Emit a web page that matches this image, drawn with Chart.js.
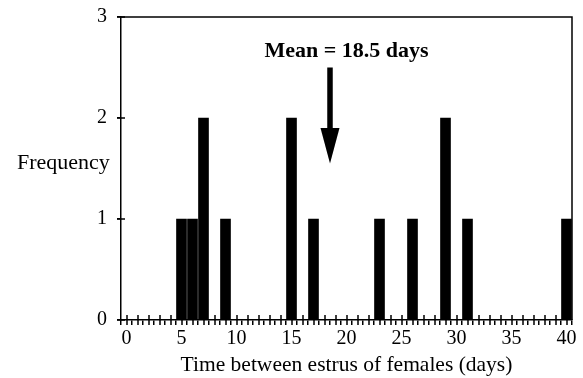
<!DOCTYPE html>
<html>
<head>
<meta charset="utf-8">
<script src="https://cdn.jsdelivr.net/npm/chart.js@4.4.1/dist/chart.umd.min.js"></script>
<style>
   html, body { margin: 0; padding: 0; background: #fff; }
   canvas { display: block; }
</style>
</head>
<body>
<canvas id="chart" width="583" height="378"></canvas>
<script>
// days between estrus, and how many females had that interval
const days = [5, 6, 7, 9, 15, 17, 23, 26, 29, 31, 40];
const frequency = [1, 1, 2, 1, 2, 1, 1, 1, 2, 1, 1];
const xLabeledTicks = [0, 5, 10, 15, 20, 25, 30, 35, 40];
const yTicks = [0, 1, 2, 3];

const serif = "'Liberation Serif', 'Times New Roman', serif";

let total = 0, count = 0;
days.forEach((d, i) => { total += d * frequency[i]; count += frequency[i]; });
const mean = total / count;

const framePlugin = {
   id: 'frame',
   afterDraw(chart) {
      const { ctx, chartArea, scales } = chart;
      const x = scales.x, y = scales.y;
      ctx.save();
      ctx.strokeStyle = '#000';
      ctx.lineWidth = 1.5;
      ctx.beginPath();
      ctx.moveTo(chartArea.left, chartArea.top);
      ctx.lineTo(chartArea.right, chartArea.top);
      ctx.lineTo(chartArea.right, chartArea.bottom);
      ctx.stroke();

      // tick marks cross the axes
      ctx.beginPath();
      x.ticks.forEach((t, i) => {
         const px = Math.round(x.getPixelForTick(i));
         ctx.moveTo(px, chartArea.bottom + 5);
         ctx.lineTo(px, chartArea.bottom - 5);
      });
      y.ticks.forEach((t, i) => {
         const py = Math.round(y.getPixelForTick(i));
         ctx.moveTo(chartArea.left - 4, py);
         ctx.lineTo(chartArea.left + 4, py);
      });
      ctx.stroke();

      // mean arrow
      const ax = x.getPixelForValue(mean);
      const shaftTop = y.getPixelForValue(2.5);
      const headBase = y.getPixelForValue(1.9);
      const tip = y.getPixelForValue(1.55);
      ctx.fillStyle = '#000';
      ctx.fillRect(ax - 2.75, shaftTop, 5.5, headBase - shaftTop);
      ctx.beginPath();
      ctx.moveTo(ax - 9.5, headBase);
      ctx.lineTo(ax + 9.5, headBase);
      ctx.lineTo(ax, tip);
      ctx.closePath();
      ctx.fill();

      ctx.font = 'bold 22px ' + serif;
      ctx.textAlign = 'center';
      ctx.textBaseline = 'middle';
      ctx.fillText('Mean = ' + mean.toFixed(1) + ' days', x.getPixelForValue(20), y.getPixelForValue(2.66));

      ctx.font = '22px ' + serif;
      ctx.textAlign = 'left';
      ctx.fillText('Frequency', 17, y.getPixelForValue(1.55));
      ctx.restore();
   }
};

const ctx = document.getElementById('chart').getContext('2d');

new Chart(ctx, {
   type: 'bar',
   data: {
      datasets: [
         {
            label: 'Frequency',
            data: days.map((d, i) => ({ x: d, y: frequency[i] })),
            backgroundColor: '#000',
            borderWidth: 0,
            barThickness: 10,
         },
      ],
   },
   options: {
      responsive: false,
      animation: false,
      devicePixelRatio: 1,
      layout: {
         padding: { left: 0, right: 11, top: 17, bottom: 0 }
      },
      plugins: {
         legend: { display: false },
         tooltip: { enabled: false }
      },
      scales: {
         x: {
            type: 'linear',
            min: 0,
            max: 40,
            afterFit: (scale) => {
               scale.height = 58;
               scale.paddingLeft = 0;
               scale.paddingRight = 0;
            },
            afterBuildTicks: (scale) => {
               const t = [];
               for (let v = 0; v <= 40; v++) t.push({ value: v });
               scale.ticks = t;
            },
            ticks: {
               autoSkip: false,
               maxRotation: 0,
               padding: 2,
               color: '#000',
               font: { family: serif, size: 20 },
               callback: (v) => xLabeledTicks.includes(v) ? String(v) : '',
            },
            grid: {
               drawOnChartArea: false,
               drawTicks: true,
               tickLength: 5,
               color: '#000',
               lineWidth: 1.5,
            },
            border: { display: true, color: '#000', width: 1.5 },
            title: {
               display: true,
               text: 'Time between estrus of females (days)',
               color: '#000',
               font: { family: serif, size: 21.5 },
               padding: { top: 0, bottom: 0 },
            },
         },
         y: {
            min: 0,
            max: 3,
            afterFit: (scale) => {
               scale.width = 121;
               scale.paddingTop = 0;
               scale.paddingBottom = 0;
            },
            afterBuildTicks: (scale) => {
               scale.ticks = yTicks.map(v => ({ value: v }));
            },
            ticks: {
               padding: 10,
               color: '#000',
               font: { family: serif, size: 20 },
            },
            grid: {
               drawOnChartArea: false,
               drawTicks: true,
               tickLength: 4,
               color: '#000',
               lineWidth: 1.5,
            },
            border: { display: true, color: '#000', width: 1.5 },
         },
      },
   },
   plugins: [framePlugin],
});
</script>
</body>
</html>
